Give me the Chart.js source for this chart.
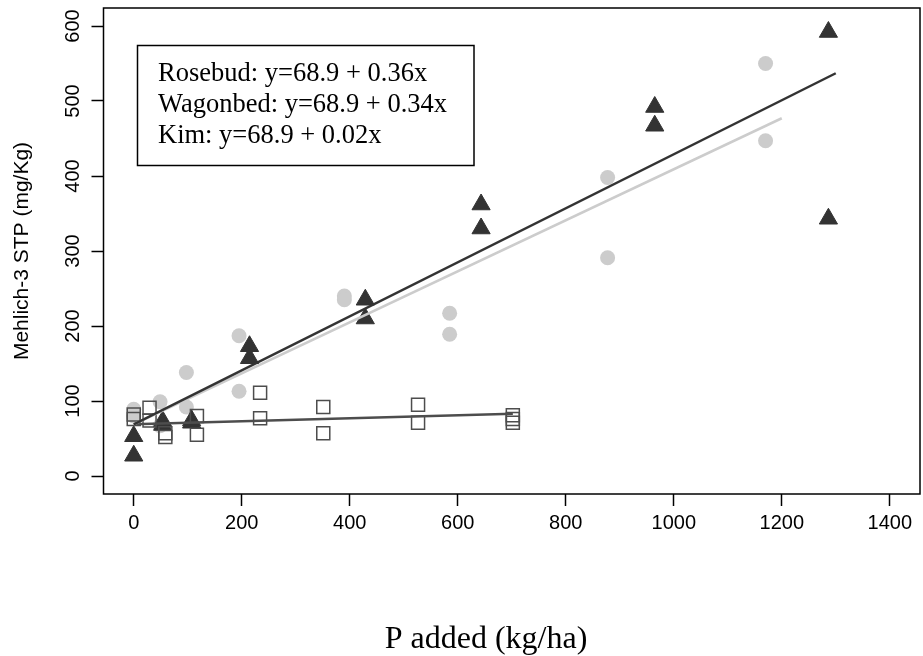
<!DOCTYPE html>
<html>
<head>
<meta charset="utf-8">
<script src="https://cdn.jsdelivr.net/npm/chart.js@4/dist/chart.umd.min.js"></script>
<style>
  html, body { margin: 0; padding: 0; background: #fff; overflow: hidden; }
</style>
</head>
<body>
<canvas id="chart" width="923" height="656"></canvas>
<script>
// values
const rosebudX = [0, 0, 53.6, 53.6, 107.2, 107.2, 214.4, 214.4, 428.8, 428.8, 643.2, 643.2, 964.8, 964.8, 1286.4, 1286.4];
const rosebudY = [27, 53, 73, 68, 74, 71, 173, 157, 235, 210, 362, 330, 492, 467, 592, 343];

const wagonbedX = [0, 0, 48.75, 48.75, 97.5, 97.5, 195, 195, 390, 390, 585, 585, 877.5, 877.5, 1170, 1170];
const wagonbedY = [89, 80, 99, 67, 138, 92, 187, 113, 240, 235, 217, 189, 398, 291, 550, 447];

const kimX = [0, 0, 29.25, 29.25, 58.5, 58.5, 117, 117, 234, 234, 351, 351, 526.5, 526.5, 702, 702, 702];
const kimY = [82, 76, 91, 74, 57, 52, 80, 55, 111, 77, 92, 57, 95, 71, 81, 76, 71];

// fitted line end points
const rosebudLineX = [0, 1300];
const rosebudLineY = [68.9, 537];
const wagonbedLineX = [0, 1200];
const wagonbedLineY = [68.9, 477];
const kimLineX = [0, 702];
const kimLineY = [68.9, 83];

const xTicks = [0, 200, 400, 600, 800, 1000, 1200, 1400];
const yTicks = [0, 100, 200, 300, 400, 500, 600];

const legendLines = [
    "Rosebud: y=68.9 + 0.36x",
    "Wagonbed: y=68.9 + 0.34x",
    "Kim: y=68.9 + 0.02x"
];

const sans = "'Liberation Sans', Arial, Helvetica, sans-serif";
const serif = "'Liberation Serif', 'Times New Roman', serif";

function toPoints(xs, ys) {
    return xs.map((x, i) => ({ x: x, y: ys[i] }));
}

function noPad(s) {
    s.paddingLeft = 0;
    s.paddingRight = 0;
    s.paddingTop = 0;
    s.paddingBottom = 0;
}

// box round the plot, equation box and the x label
const framePlugin = {
    id: "frame",
    afterDraw(chart) {
        const ctx = chart.ctx;
        const a = chart.chartArea;
        ctx.save();
        ctx.strokeStyle = "#000";
        ctx.lineWidth = 1.5;
        ctx.strokeRect(a.left, a.top, a.right - a.left, a.bottom - a.top);

        ctx.strokeRect(137.5, 45.5, 336.5, 120);
        ctx.fillStyle = "#000";
        ctx.font = "26.5px " + serif;
        ctx.textAlign = "left";
        ctx.textBaseline = "alphabetic";
        legendLines.forEach((t, i) => ctx.fillText(t, 158, 80.5 + i * 31));

        ctx.font = "32px " + serif;
        ctx.textAlign = "center";
        ctx.fillText("P added (kg/ha)", 486, 648);
        ctx.restore();
    }
};

const ctx = document.getElementById("chart").getContext("2d");
new Chart(ctx, {
    type: "scatter",
    data: {
        datasets: [
            {
                label: "Rosebud fit", type: "line", data: toPoints(rosebudLineX, rosebudLineY),
                borderColor: "#333333", borderWidth: 2.5, pointRadius: 0, fill: false, order: 0
            },
            {
                label: "Wagonbed fit", type: "line", data: toPoints(wagonbedLineX, wagonbedLineY),
                borderColor: "#cccccc", borderWidth: 2.5, pointRadius: 0, fill: false, order: 0
            },
            {
                label: "Kim fit", type: "line", data: toPoints(kimLineX, kimLineY),
                borderColor: "#4d4d4d", borderWidth: 2.5, pointRadius: 0, fill: false, order: 0
            },
            {
                label: "Kim", data: toPoints(kimX, kimY),
                pointStyle: "rect", pointRadius: 9.2, pointBorderWidth: 1.5,
                pointBorderColor: "#4d4d4d", pointBackgroundColor: "rgba(0,0,0,0)", order: 1
            },
            {
                label: "Rosebud", data: toPoints(rosebudX, rosebudY),
                pointStyle: "triangle", pointRadius: 10.5, pointBorderWidth: 1,
                pointBorderColor: "#333333", pointBackgroundColor: "#333333", order: 2
            },
            {
                label: "Wagonbed", data: toPoints(wagonbedX, wagonbedY),
                pointStyle: "circle", pointRadius: 7.5, pointBorderWidth: 0,
                pointBorderColor: "#cccccc", pointBackgroundColor: "#cccccc", order: 3
            }
        ]
    },
    options: {
        responsive: false,
        animation: false,
        events: [],
        layout: { autoPadding: false, padding: { left: 0, right: 3, top: 8, bottom: 0 } },
        plugins: {
            legend: { display: false },
            tooltip: { enabled: false }
        },
        scales: {
            x: {
                type: "linear",
                min: -56,
                max: 1456,
                afterBuildTicks: s => { s.ticks = xTicks.map(v => ({ value: v })); },
                afterFit: s => { s.height = 162; noPad(s); },
                ticks: {
                    color: "#000", padding: 5, maxRotation: 0,
                    font: { family: sans, size: 20 },
                    callback: v => String(v)
                },
                grid: {
                    display: true, drawOnChartArea: false, drawTicks: true,
                    tickLength: 12, tickWidth: 1.5, tickColor: "#000"
                },
                border: { display: false },
                title: { display: false }
            },
            y: {
                type: "linear",
                min: -24,
                max: 624,
                afterBuildTicks: s => { s.ticks = yTicks.map(v => ({ value: v })); },
                afterFit: s => { s.width = 103.5; noPad(s); },
                ticks: {
                    color: "#000", padding: 1, minRotation: 90, maxRotation: 90,
                    crossAlign: "center",
                    font: { family: sans, size: 20 },
                    callback: v => String(v)
                },
                grid: {
                    display: true, drawOnChartArea: false, drawTicks: true,
                    tickLength: 12, tickWidth: 1.5, tickColor: "#000"
                },
                border: { display: false },
                title: {
                    display: true,
                    text: "Mehlich-3 STP (mg/Kg)",
                    color: "#000",
                    font: { family: sans, size: 21 },
                    padding: { top: 10, bottom: 0 }
                }
            }
        }
    },
    plugins: [framePlugin]
});
</script>
</body>
</html>
